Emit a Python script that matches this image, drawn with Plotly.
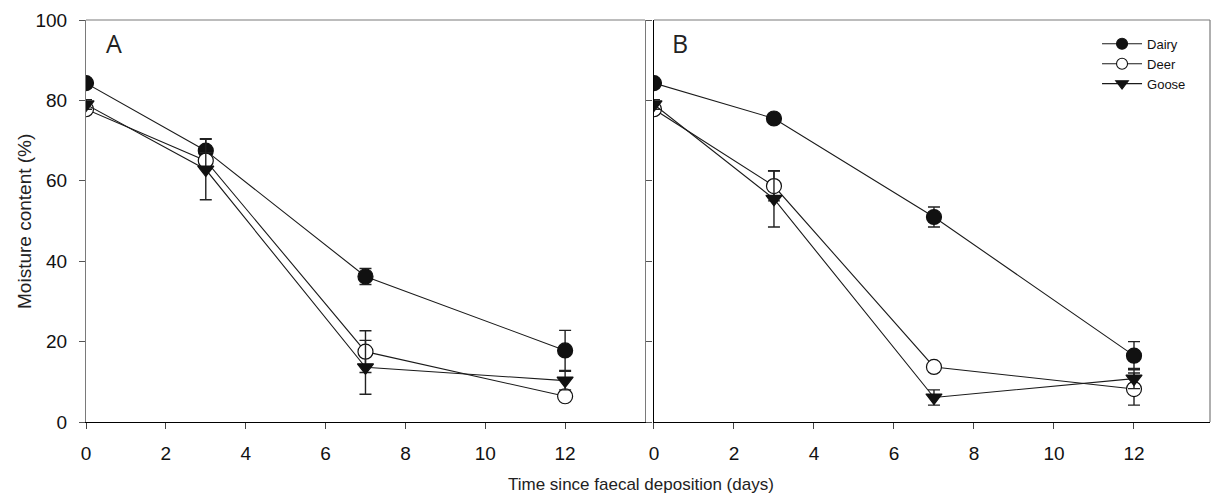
import plotly.graph_objects as go

# Sampling days
days = [0, 3, 7, 12]

# Panel A – moisture content (%) and standard errors
a_dairy = [84.3, 67.5, 36.2, 17.8]
a_dairy_err = [0.6, 3.0, 2.0, 5.0]
a_deer = [77.8, 65.0, 17.5, 6.4]
a_deer_err = [1.0, 2.0, 5.2, 0.8]
a_goose = [79.0, 62.8, 13.6, 10.3]
a_goose_err = [1.2, 7.5, 6.7, 2.3]

# Panel B – moisture content (%) and standard errors
b_dairy = [84.3, 75.5, 51.0, 16.5]
b_dairy_err = [0.6, 0.8, 2.5, 3.5]
b_deer = [77.8, 58.7, 13.7, 8.2]
b_deer_err = [1.0, 3.7, 0.6, 4.0]
b_goose = [79.0, 55.5, 6.1, 10.8]
b_goose_err = [1.2, 7.0, 1.9, 2.5]

x_ticks = [0, 2, 4, 6, 8, 10, 12]
y_ticks = [0, 20, 40, 60, 80, 100]

INK = "#111111"
GREY = "#7a7a7a"
LINE = "#1a1a1a"

styles = {
    "Dairy": dict(symbol="circle", color=INK, size=15),
    "Deer": dict(symbol="circle", color="white", size=15),
    "Goose": dict(symbol="triangle-down", color=INK, size=14),
}

fig = go.Figure()

panels = [
    ("x", "y", [("Dairy", a_dairy, a_dairy_err), ("Deer", a_deer, a_deer_err), ("Goose", a_goose, a_goose_err)]),
    ("x2", "y2", [("Dairy", b_dairy, b_dairy_err), ("Deer", b_deer, b_deer_err), ("Goose", b_goose, b_goose_err)]),
]

for xa, ya, series in panels:
    for name, vals, errs in series:
        st = styles[name]
        fig.add_trace(go.Scatter(
            x=days, y=vals, name=name, xaxis=xa, yaxis=ya,
            mode="lines+markers", showlegend=False, legendgroup=name,
            line=dict(color=LINE, width=1.1),
            marker=dict(symbol=st["symbol"], size=st["size"], color=st["color"],
                        line=dict(color=INK, width=1.2)),
            error_y=dict(type="data", array=errs, visible=True,
                         color="#222222", thickness=1.4, width=6),
        ))

# Legend entries with smaller key symbols
for name in ["Dairy", "Deer", "Goose"]:
    st = styles[name]
    fig.add_trace(go.Scatter(
        x=[None], y=[None], name=name, mode="lines+markers",
        legendgroup=name, showlegend=True,
        line=dict(color=LINE, width=1.1),
        marker=dict(symbol=st["symbol"], size=11 if name != "Goose" else 11,
                    color=st["color"], line=dict(color=INK, width=1.1)),
    ))

ax_font = dict(family="Liberation Sans, Arial, sans-serif", size=19, color="#111111")

fig.update_layout(
    width=1212, height=497,
    margin=dict(l=86, r=2, t=20, b=75),
    plot_bgcolor="white", paper_bgcolor="white",
    font=ax_font,
    xaxis=dict(domain=[0, 0.4973], range=[0, 14], tickvals=x_ticks,
               showline=True, linecolor="black", linewidth=1.2,
               ticks="outside", ticklen=6, tickcolor="#444", tickwidth=1.2,
               ticklabelstandoff=8,
               showgrid=False, zeroline=False, tickfont=ax_font),
    yaxis=dict(domain=[0, 1], range=[0, 100], tickvals=y_ticks,
               showline=True, linecolor=GREY, linewidth=1.2, mirror="ticks",
               ticks="outside", ticklen=6, tickcolor="#555", tickwidth=1.2,
               ticklabelstandoff=8,
               showgrid=False, zeroline=False, tickfont=ax_font),
    xaxis2=dict(domain=[0.5053, 1], range=[0, 13.9], tickvals=x_ticks,
                showline=True, linecolor="black", linewidth=1.2,
                ticks="outside", ticklen=6, tickcolor="#444", tickwidth=1.2,
                ticklabelstandoff=8,
                showgrid=False, zeroline=False, tickfont=ax_font, anchor="y2"),
    yaxis2=dict(domain=[0, 1], range=[0, 100], anchor="x2",
                showline=True, linecolor="black", linewidth=1.2,
                ticks="", showticklabels=False,
                showgrid=False, zeroline=False),
    legend=dict(x=0.8995, y=0.978, xanchor="left", yanchor="top",
                bgcolor="rgba(0,0,0,0)", itemsizing="trace", itemwidth=40,
                font=dict(family="Liberation Sans, Arial, sans-serif", size=13, color="#111"),
                tracegroupgap=0),
    shapes=[
        dict(type="line", xref="paper", yref="paper", x0=0, x1=0.4973, y0=1, y1=1,
             line=dict(color=GREY, width=1.2)),
        dict(type="line", xref="paper", yref="paper", x0=0.5053, x1=1, y0=1, y1=1,
             line=dict(color=GREY, width=1.2)),
        dict(type="line", xref="paper", yref="paper", x0=1, x1=1, y0=0, y1=1,
             line=dict(color=GREY, width=1.2)),
    ],
    annotations=[
        dict(text="A", xref="paper", yref="paper", x=0.0245, y=0.9428,
             showarrow=False, xanchor="center", yanchor="middle",
             font=dict(family="Open Sans, sans-serif", size=25, color="#222")),
        dict(text="B", xref="paper", yref="paper", x=0.5285, y=0.9428,
             showarrow=False, xanchor="center", yanchor="middle",
             font=dict(family="Open Sans, sans-serif", size=25, color="#222")),
        dict(text="Time since faecal deposition (days)", xref="paper", yref="paper",
             x=0.4938, y=-0.1567, showarrow=False, xanchor="center", yanchor="middle",
             font=dict(family="Liberation Sans, Arial, sans-serif", size=17, color="#222")),
        dict(text="Moisture content (%)", xref="paper", yref="paper",
             x=-0.0552, y=0.5, showarrow=False, xanchor="center", yanchor="middle",
             textangle=-90,
             font=dict(family="Liberation Sans, Arial, sans-serif", size=19, color="#222")),
    ],
)

fig.write_html("out.html")
